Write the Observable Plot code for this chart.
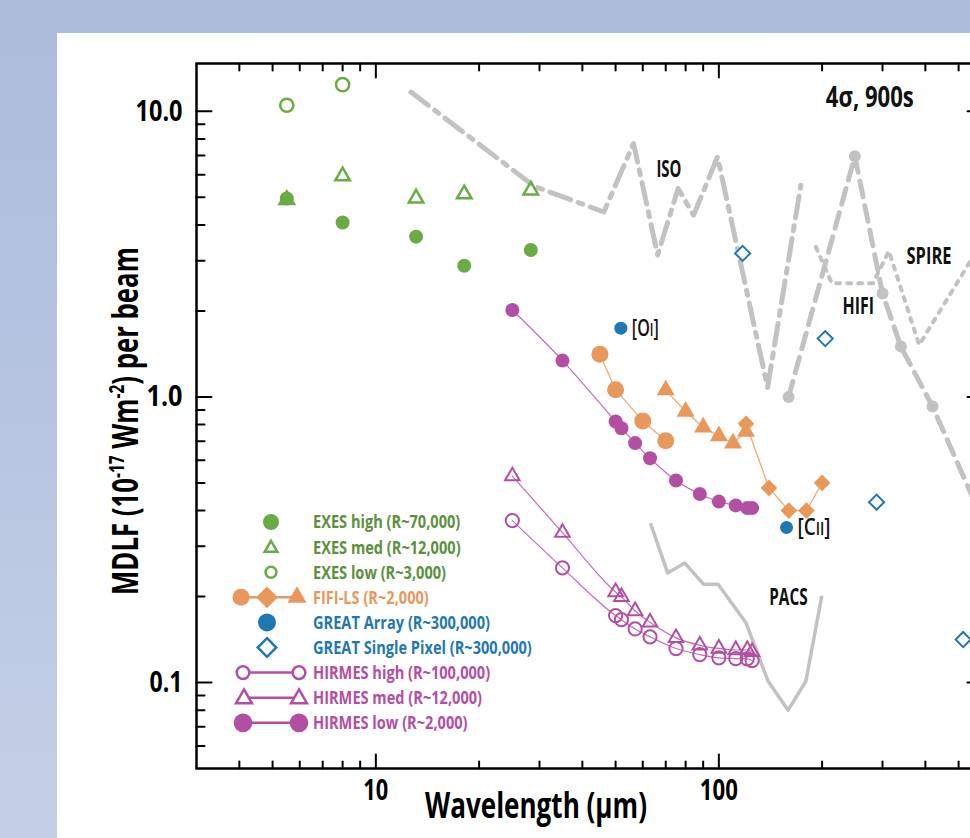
<!DOCTYPE html>
<html><head><meta charset="utf-8">
<script src="https://cdn.jsdelivr.net/npm/d3@7"></script>
<script src="https://cdn.jsdelivr.net/npm/@observablehq/plot@0.6"></script>
<style>
html,body{margin:0;padding:0;}
body{width:970px;height:838px;overflow:hidden;position:relative;background:linear-gradient(180deg,#abbbda 0%,#b8c6e1 55%,#c4d0e7 100%);}
#panel{position:absolute;left:57px;top:33px;width:913px;height:805px;background:#fff;}
#chart{position:absolute;left:0;top:0;width:1000px;}
#legend{position:absolute;left:0;top:0;pointer-events:none;}
</style></head>
<body>
<div id="panel"></div>
<div id="chart"></div>
<script>
const FONT = "'Open Sans','Liberation Sans',sans-serif";
const GREEN = "#6aab46", GREEN_TXT = "#5c903d";
const ORANGE = "#e8985b", ORANGE_LINE = "#efab78";
const BLUE = "#1f78b2";
const MAGENTA = "#b34fa3", MAGENTA_LINE = "#c46db5";
const GRAY = "#c2c2c2";

// ---- data (wavelength µm, MDLF 1e-17 W m^-2) ----
const exesX = [5.5, 8.0, 13.1, 18.1, 28.3];
const exesHigh = [4.95, 4.08, 3.64, 2.88, 3.27];
const exesMed = [4.9, 5.93, 4.96, 5.13, 5.29];
const exesLowX = [5.5, 8.0];
const exesLow = [10.5, 12.4];

const fifiCircX = [45, 50, 60, 70];
const fifiCirc = [1.41, 1.06, 0.824, 0.702];
const fifiTriX = [70, 80, 90, 100, 110, 120];
const fifiTri = [1.056, 0.889, 0.783, 0.730, 0.688, 0.756];
const fifiDiaX = [120, 140, 160, 180, 200];
const fifiDia = [0.805, 0.48, 0.40, 0.40, 0.50];

const greatArrX = [51.8, 157.5];
const greatArrY = [1.74, 0.349];
const greatArrLabel = ["[OI]", "[CII]"];
const greatSpX = [117.3, 204.2, 288.3, 515.6];
const greatSpY = [3.18, 1.60, 0.428, 0.1414];

const hirmesX = [25, 35, 50, 52, 57, 63, 75, 88, 100, 112, 121, 125];
const hirmesHigh = [0.369, 0.252, 0.1715, 0.166, 0.154, 0.1445, 0.1315, 0.1253, 0.122, 0.1213, 0.121, 0.1194];
const hirmesMed = [0.528, 0.335, 0.2075, 0.1995, 0.178, 0.1625, 0.1433, 0.135, 0.1316, 0.130, 0.130, 0.128];
const hirmesLow = [2.015, 1.34, 0.820, 0.777, 0.689, 0.610, 0.510, 0.457, 0.430, 0.417, 0.408, 0.408];

const isoX = [12.65, 28.9, 46.2, 56.4, 66.3, 76.1, 84.4, 99.1, 138.7, 173.4];
const isoY = [11.68, 5.47, 4.44, 7.71, 3.14, 5.37, 4.33, 6.92, 1.08, 5.51];
const hifiX = [159.7, 249.2, 300.1, 339.3, 419.8, 600];
const hifiY = [1.0, 6.96, 2.30, 1.50, 0.925, 0.35];
const spireX = [191.8, 213.5, 281.2, 313.1, 383.7, 600];
const spireY = [3.35, 2.50, 2.50, 3.24, 1.52, 3.66];
const pacsX = [63.4, 70.9, 79.6, 90.2, 99.5, 119.9, 139.2, 159.2, 179.3, 199.3];
const pacsY = [0.357, 0.242, 0.262, 0.221, 0.221, 0.162, 0.101, 0.080, 0.101, 0.199];

const annoText = ["ISO", "HIFI", "SPIRE", "PACS"];
const annoX = [71.5, 255, 410, 159.5];
const annoY = [6.22, 2.07, 3.10, 0.198];
const noteText = ["4σ, 900s"];
const noteX = [275.5];
const noteY = [11.1];

const xMajorTicks = [10, 100];
const xMinorTicks = [4, 5, 6, 7, 8, 9, 20, 30, 40, 50, 60, 70, 80, 90, 200, 300, 400, 500];
const yMajorTicks = [0.1, 1, 10];
const yMinorTicks = [0.06, 0.07, 0.08, 0.09, 0.2, 0.3, 0.4, 0.5, 0.6, 0.7, 0.8, 0.9, 2, 3, 4, 5, 6, 7, 8, 9];

const legendLabels = ["EXES high (R~70,000)", "EXES med (R~12,000)", "EXES low (R~3,000)", "FIFI-LS (R~2,000)",
  "GREAT Array (R~300,000)", "GREAT Single Pixel (R~300,000)", "HIRMES high (R~100,000)", "HIRMES med (R~12,000)", "HIRMES low (R~2,000)"];

// condensed-type emulation: target rendered widths (px) of texts in the reference
const textWidths = {"10.0": 47, "1.0": 36, "0.1": 33, "10": 25, "100": 38, "4σ, 900s": 88, "ISO": 25,
  "SPIRE": 45, "HIFI": 31.6, "PACS": 38.4, "[OI]": 27, "[CII]": 33};

// ---- build ----
const pts = (xs, ys, extra) => xs.map((x, i) => ({x, y: ys[i], ...(extra ? {t: extra[i]} : {})}));
const tickShape = {draw(ctx, l) { ctx.moveTo(0, 0); ctx.lineTo(0, -l); }};
const tk = (data, ch, frameAnchor, rotate, length) =>
  Plot.vector(data, {[ch]: d => d, frameAnchor, rotate, length, anchor: "start", shape: tickShape, stroke: "black", strokeWidth: 2});

const chart = Plot.plot({
  width: 1000, height: 838,
  marginLeft: 196, marginRight: 18, marginTop: 63, marginBottom: 70,
  style: {background: "transparent", fontFamily: FONT, maxWidth: "none", overflow: "visible"},
  x: {type: "log", domain: [3, 587]},
  y: {type: "log", domain: [0.05, 14.7]},
  marks: [
    Plot.line(pts(isoX, isoY), {x: "x", y: "y", stroke: GRAY, strokeWidth: 5, strokeDasharray: "22,8,5,8", clip: true}),
    Plot.line(pts(hifiX, hifiY), {x: "x", y: "y", stroke: GRAY, strokeWidth: 5, strokeDasharray: "16,9", clip: true}),
    Plot.dot(pts(hifiX, hifiY), {x: "x", y: "y", r: 6, fill: GRAY, clip: true}),
    Plot.line(pts(spireX, spireY), {x: "x", y: "y", stroke: GRAY, strokeWidth: 4, strokeDasharray: "4,7", clip: true}),
    Plot.line(pts(pacsX, pacsY), {x: "x", y: "y", stroke: GRAY, strokeWidth: 3.5}),
    Plot.text(pts(annoX, annoY, annoText), {x: "x", y: "y", text: "t", fontSize: 22.5, fontWeight: "bold", fill: "#111"}),
    Plot.text(pts(noteX, noteY, noteText), {x: "x", y: "y", text: "t", fontSize: 28, fontWeight: "bold", fill: "#111"}),

    Plot.dot(pts(greatSpX, greatSpY), {x: "x", y: "y", r: 6.8, symbol: d3.symbolDiamond2, stroke: BLUE, strokeWidth: 2, fill: "white"}),
    Plot.dot(pts(greatArrX, greatArrY), {x: "x", y: "y", r: 6.5, fill: BLUE}),
    Plot.text(pts(greatArrX, greatArrY, greatArrLabel), {x: "x", y: "y", text: "t", dx: 11, textAnchor: "start", fontSize: 23, fontWeight: 600, fill: "#111"}),

    Plot.line(pts(fifiCircX, fifiCirc), {x: "x", y: "y", stroke: ORANGE_LINE, strokeWidth: 1.3}),
    Plot.line(pts(fifiTriX, fifiTri), {x: "x", y: "y", stroke: ORANGE_LINE, strokeWidth: 1.3}),
    Plot.line(pts(fifiDiaX, fifiDia), {x: "x", y: "y", stroke: ORANGE_LINE, strokeWidth: 1.3}),
    Plot.dot(pts(fifiCircX, fifiCirc), {x: "x", y: "y", r: 8.5, fill: ORANGE}),
    Plot.dot(pts(fifiTriX, fifiTri), {x: "x", y: "y", r: 6.7, symbol: "triangle", fill: ORANGE}),
    Plot.dot(pts(fifiDiaX, fifiDia), {x: "x", y: "y", r: 7.5, symbol: d3.symbolDiamond2, fill: ORANGE}),

    Plot.line(pts(hirmesX, hirmesHigh), {x: "x", y: "y", stroke: MAGENTA_LINE, strokeWidth: 1.2, curve: "monotone-x"}),
    Plot.line(pts(hirmesX, hirmesMed), {x: "x", y: "y", stroke: MAGENTA_LINE, strokeWidth: 1.2, curve: "monotone-x"}),
    Plot.line(pts(hirmesX, hirmesLow), {x: "x", y: "y", stroke: MAGENTA_LINE, strokeWidth: 1.2, curve: "monotone-x"}),
    Plot.dot(pts(hirmesX, hirmesLow), {x: "x", y: "y", r: 7, fill: MAGENTA}),
    Plot.dot(pts(hirmesX, hirmesMed), {x: "x", y: "y", r: 5.4, symbol: "triangle", stroke: MAGENTA, strokeWidth: 2, fill: "none"}),
    Plot.dot(pts(hirmesX, hirmesHigh), {x: "x", y: "y", r: 6.6, stroke: MAGENTA, strokeWidth: 2, fill: "none"}),

    Plot.dot(pts(exesX, exesHigh), {x: "x", y: "y", r: 7, fill: GREEN}),
    Plot.dot(pts(exesX, exesMed), {x: "x", y: "y", r: 5.4, symbol: "triangle", stroke: GREEN, strokeWidth: 2.5, fill: "none"}),
    Plot.dot(pts(exesLowX, exesLow), {x: "x", y: "y", r: 6.6, stroke: GREEN, strokeWidth: 2.5, fill: "none"}),

    Plot.frame({stroke: "black", strokeWidth: 2.5}),
    tk(xMajorTicks, "x", "bottom", 0, 14), tk(xMinorTicks, "x", "bottom", 0, 7),
    tk(xMajorTicks, "x", "top", 180, 14), tk(xMinorTicks, "x", "top", 180, 7),
    tk(yMajorTicks, "y", "left", 90, 15), tk(yMinorTicks, "y", "left", 90, 8),
    tk(yMajorTicks, "y", "right", -90, 15), tk(yMinorTicks, "y", "right", -90, 8),
    Plot.axisX(xMajorTicks, {anchor: "bottom", tickSize: 0, tickPadding: 12, tickFormat: d => String(d), fontSize: 28, fontWeight: "bold", label: null}),
    Plot.axisY(yMajorTicks, {anchor: "left", tickSize: 0, tickPadding: 14, tickFormat: d => d.toFixed(1), fontSize: 29, fontWeight: "bold", label: null})
  ]
});
document.getElementById("chart").appendChild(chart);

function squeeze(el, target) {
  const w = el.getComputedTextLength();
  if (!w) return;
  const k = target / w;
  el.setAttribute("transform", (el.getAttribute("transform") || "") + ` scale(${k.toFixed(4)},1)`);
}

const svg = d3.select(chart);
svg.selectAll("text").each(function () {
  const t = this.textContent;
  if (t === "[OI]") this.innerHTML = '[O<tspan font-size="75%">I</tspan>]';
  if (t === "[CII]") this.innerHTML = '[C<tspan font-size="75%">II</tspan>]';
  if (textWidths[t] !== undefined) squeeze(this, textWidths[t]);
});
// axis titles
const xt = svg.append("text").attr("transform", "translate(536,818)").attr("text-anchor", "middle")
  .attr("font-size", 35).attr("font-weight", "bold").attr("font-family", FONT).text("Wavelength (µm)");
squeeze(xt.node(), 222);
const yt = svg.append("text").attr("transform", "translate(138,421) rotate(-90)").attr("text-anchor", "middle")
  .attr("font-size", 35).attr("font-weight", "bold").attr("font-family", FONT);
yt.append("tspan").text("MDLF (10");
yt.append("tspan").attr("dy", -14).attr("font-size", 21).text("-17");
yt.append("tspan").attr("dy", 14).text(" Wm");
yt.append("tspan").attr("dy", -14).attr("font-size", 21).text("-2");
yt.append("tspan").attr("dy", 14).text(") per beam");
squeeze(yt.node(), 348);

// ---- legend ----
const lg = d3.select("body").append("svg").attr("id", "legend").attr("width", 970).attr("height", 838);
const rowY = i => 522 + i * 25.1;
const txtColors = [GREEN_TXT, GREEN_TXT, GREEN_TXT, ORANGE, BLUE, BLUE, MAGENTA, MAGENTA, MAGENTA];
const sym = (type, size, x, y, fill, stroke, sw) => lg.append("path")
  .attr("d", d3.symbol(type, size)()).attr("transform", `translate(${x},${y})`)
  .attr("fill", fill).attr("stroke", stroke || "none").attr("stroke-width", sw || 0);
const seg = (x1, x2, y, c) => lg.append("line").attr("x1", x1).attr("x2", x2).attr("y1", y).attr("y2", y).attr("stroke", c).attr("stroke-width", 2.5);
sym(d3.symbolCircle, Math.PI * 64, 271, rowY(0), GREEN);
sym(d3.symbolTriangle, 70, 271, rowY(1) + 1, "none", GREEN, 2.5);
sym(d3.symbolCircle, Math.PI * 30, 271, rowY(2), "none", GREEN, 2.5);
seg(241, 297, rowY(3), ORANGE);
sym(d3.symbolCircle, Math.PI * 72, 241, rowY(3), ORANGE);
sym(d3.symbolDiamond2, 300, 267, rowY(3), ORANGE);
sym(d3.symbolTriangle, 160, 297, rowY(3), ORANGE);
sym(d3.symbolCircle, Math.PI * 81, 267, rowY(4), BLUE);
sym(d3.symbolDiamond2, 220, 267, rowY(5), "none", BLUE, 2.5);
seg(243, 299, rowY(6), MAGENTA);
sym(d3.symbolCircle, Math.PI * 40, 243, rowY(6), "white", MAGENTA, 2.5);
sym(d3.symbolCircle, Math.PI * 40, 299, rowY(6), "white", MAGENTA, 2.5);
seg(243, 299, rowY(7), MAGENTA);
sym(d3.symbolTriangle, 110, 244, rowY(7) + 1, "white", MAGENTA, 2.5);
sym(d3.symbolTriangle, 110, 299, rowY(7) + 1, "white", MAGENTA, 2.5);
seg(243, 299, rowY(8), MAGENTA);
sym(d3.symbolCircle, Math.PI * 88, 243, rowY(8), MAGENTA);
sym(d3.symbolCircle, Math.PI * 88, 299, rowY(8), MAGENTA);
const legTexts = legendLabels.map((t, i) => lg.append("text").attr("transform", `translate(313,${rowY(i)})`).attr("dy", "0.36em")
    .attr("font-family", FONT).attr("font-weight", "bold").attr("font-size", 18)
    .attr("fill", txtColors[i]).text(t).node());
const legK = 219 / legTexts[5].getComputedTextLength();
legTexts.forEach(el => squeeze(el, el.getComputedTextLength() * legK));
</script>
</body></html>
